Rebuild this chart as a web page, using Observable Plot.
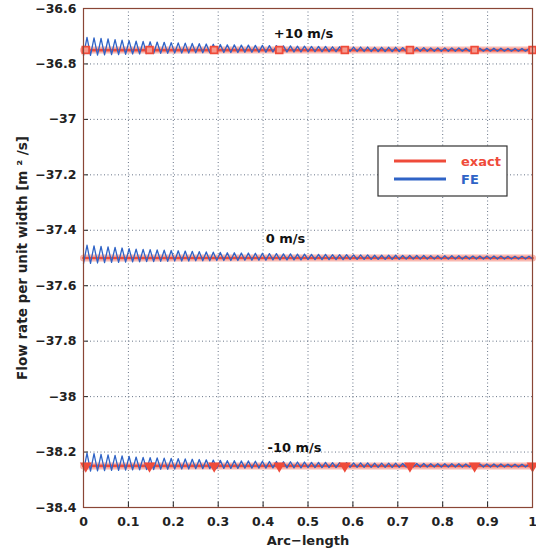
<!DOCTYPE html>
<html><head><meta charset="utf-8">
<script src="https://cdn.jsdelivr.net/npm/d3@7"></script>
<script src="https://cdn.jsdelivr.net/npm/@observablehq/plot@0.6"></script>
<style>
body{margin:0;background:#fff;font-family:"DejaVu Sans",sans-serif}
</style>
</head><body><div id="chart"></div>
<script>
// ---- data ----
const speeds = ["+10 m/s", "0 m/s", "-10 m/s"];
const exactFlow = [-36.75, -37.5, -38.25];
const speedLabelArc = [0.49, 0.45, 0.47];
const speedLabelFlow = [-36.69, -37.43, -38.185];
const markerSymbols = ["square", null, "triangle-down"];
const markerArc = [0.005, 0.147, 0.291, 0.436, 0.582, 0.727, 0.871, 1.0];
// FE solution: element count and peak/trough deviation per oscillation (m^2/s)
const feElements = 128;
const fePeakOffset = [
  0.046,0.044,0.042,0.040,0.038,0.036,0.034,0.032,0.031,0.030,
  0.029,0.028,0.027,0.026,0.025,0.024,0.023,0.022,0.021,0.020,
  0.019,0.019,0.018,0.018,0.017,0.017,0.016,0.016,0.015,0.015,
  0.014,0.014,0.013,0.013,0.013,0.012,0.012,0.012,0.011,0.011,
  0.011,0.010,0.010,0.010,0.010,0.009,0.009,0.009,0.009,0.008,
  0.008,0.008,0.008,0.008,0.007,0.007,0.007,0.007,0.007,0.007,
  0.006,0.006,0.006,0.006];
const feTroughOffset = [
  -0.020,-0.019,-0.018,-0.017,-0.016,-0.016,-0.015,-0.014,-0.014,-0.013,
  -0.013,-0.012,-0.012,-0.011,-0.011,-0.011,-0.010,-0.010,-0.010,-0.009,
  -0.009,-0.009,-0.009,-0.008,-0.008,-0.008,-0.008,-0.007,-0.007,-0.007,
  -0.007,-0.007,-0.006,-0.006,-0.006,-0.006,-0.006,-0.006,-0.005,-0.005,
  -0.005,-0.005,-0.005,-0.005,-0.005,-0.005,-0.004,-0.004,-0.004,-0.004,
  -0.004,-0.004,-0.004,-0.004,-0.004,-0.004,-0.004,-0.004,-0.004,-0.004,
  -0.004,-0.004,-0.004,-0.004,-0.004];
const xTicks = [0,0.1,0.2,0.3,0.4,0.5,0.6,0.7,0.8,0.9,1];
const yTicks = [-36.6,-36.8,-37,-37.2,-37.4,-37.6,-37.8,-38,-38.2,-38.4];

// ---- build tables ----
const exactRows = speeds.flatMap((s, i) => [{speed: s, arc: 0, flow: exactFlow[i]}, {speed: s, arc: 1, flow: exactFlow[i]}]);
const feRows = speeds.flatMap((s, i) => d3.range(feElements + 1).map(n => ({
  speed: s,
  arc: n / feElements,
  flow: exactFlow[i] + (n % 2 === 0 ? feTroughOffset[n / 2] : fePeakOffset[(n - 1) / 2])
})));
const markerRows = speeds.flatMap((s, i) => markerSymbols[i] ? markerArc.map(a => ({speed: s, arc: a, flow: exactFlow[i], symbol: markerSymbols[i]})) : []);
const labelRows = speeds.map((s, i) => ({text: s, arc: speedLabelArc[i], flow: speedLabelFlow[i]}));

const red = "#ef4b3a", blue = "#2f63c6";
const minus = v => String(v).replace("-", "\u2212");

const plot = Plot.plot({
  width: 536, height: 554,
  marginTop: 8, marginBottom: 47, marginLeft: 83, marginRight: 4,
  style: {fontFamily: "DejaVu Sans", fontWeight: "bold", fontSize: "12.5px", background: "#fff", color: "#222"},
  x: {domain: [0, 1]},
  y: {domain: [-38.4, -36.6]},
  marks: [
    Plot.gridX(xTicks.slice(1, -1), {stroke: "#2a3a55", strokeOpacity: 0.7, strokeDasharray: "1,2.5"}),
    Plot.gridY(yTicks.slice(1, -1), {stroke: "#2a3a55", strokeOpacity: 0.7, strokeDasharray: "1,2.5"}),
    Plot.ruleX(xTicks.slice(1, -1), {y1: -38.4, y2: -38.38, stroke: "#222"}),
    Plot.ruleY(yTicks.slice(1, -1), {x1: 0, x2: 0.011, stroke: "#222"}),
    Plot.line(exactRows, {x: "arc", y: "flow", z: "speed", stroke: "#f9b8b0", strokeWidth: 7}),
    Plot.line(exactRows, {x: "arc", y: "flow", z: "speed", stroke: red, strokeWidth: 2.6}),
    Plot.line(feRows, {x: "arc", y: "flow", z: "speed", stroke: blue, strokeWidth: 1.3}),
    Plot.dot(markerRows.filter(d => d.symbol === "square"), {x: "arc", y: "flow", symbol: "square", r: 3.8, stroke: red, strokeWidth: 1.8, fill: "#f59a8e"}),
    Plot.dot(markerRows.filter(d => d.symbol === "triangle-down"), {x: "arc", y: "flow", symbol: "triangle", rotate: 180, r: 3.4, fill: red, stroke: red}),
    Plot.text(labelRows, {x: "arc", y: "flow", text: "text", fontSize: 13, fontWeight: "bold", fill: "#111"}),
    Plot.axisX({ticks: xTicks, tickSize: 0, tickPadding: 10, tickFormat: d => String(d), fontSize: 12.5, label: null}),
    Plot.axisY({ticks: yTicks, tickSize: 0, tickPadding: 7, tickFormat: minus, fontSize: 12.5, label: null}),
    Plot.text(["Arc\u2212length"], {frameAnchor: "bottom", dy: 37, fontSize: 13, fontWeight: "bold", fill: "#222"}),
    Plot.text(["Flow rate per unit width [m \u00b2 /s]"], {frameAnchor: "left", textAnchor: "middle", dx: -61, rotate: -90, fontSize: 13.5, fontWeight: "bold", fill: "#222"}),
    Plot.frame({stroke: "#8a4636", strokeWidth: 1.2})
  ]
});

// legend box
const svg = d3.select(plot);
const lg = svg.append("g").attr("text-anchor", "start");
lg.append("rect").attr("x", 378).attr("y", 146).attr("width", 129).attr("height", 50)
  .attr("fill", "#fff").attr("stroke", "#333").attr("stroke-width", 1.2);
const legendItems = [{name: "exact", color: red, y: 161}, {name: "FE", color: blue, y: 179}];
legendItems.forEach(it => {
  lg.append("line").attr("x1", 394).attr("x2", 446).attr("y1", it.y).attr("y2", it.y)
    .attr("stroke", it.color).attr("stroke-width", 3);
  lg.append("text").attr("x", 461).attr("y", it.y).attr("dy", "0.35em").attr("text-anchor", "start")
    .attr("fill", it.color).attr("font-size", 13).attr("font-weight", "bold").text(it.name);
});
document.getElementById("chart").appendChild(plot);
</script>
</body></html>
